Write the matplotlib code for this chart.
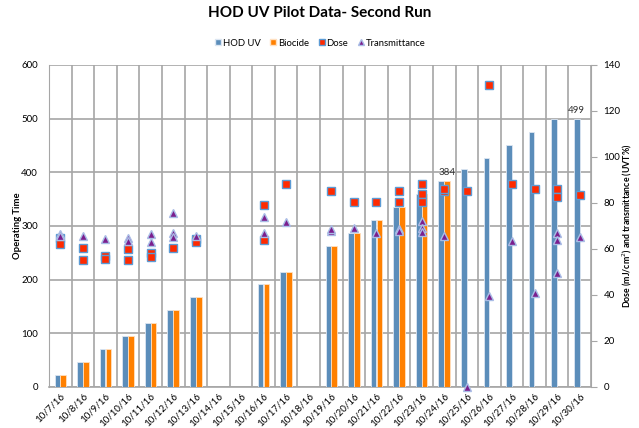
import matplotlib
matplotlib.use("Agg")
import matplotlib.pyplot as plt
import numpy as np
from matplotlib.lines import Line2D
from matplotlib import font_manager

plt.rcParams['font.family'] = ['Lato', 'DejaVu Sans']
names = {f.name for f in font_manager.fontManager.ttflist}
title_family = ['Liberation Sans Narrow', 'Lato', 'DejaVu Sans'] if 'Liberation Sans Narrow' in names else ['Lato', 'DejaVu Sans']

dates = ["10/7/16", "10/8/16", "10/9/16", "10/10/16", "10/11/16", "10/12/16",
         "10/13/16", "10/14/16", "10/15/16", "10/16/16", "10/17/16", "10/18/16",
         "10/19/16", "10/20/16", "10/21/16", "10/22/16", "10/23/16", "10/24/16",
         "10/25/16", "10/26/16", "10/27/16", "10/28/16", "10/29/16", "10/30/16"]

hod_uv = [23, 47, 71, 95, 119, 143, 167, np.nan, np.nan, 191, 215, np.nan,
          263, 287, 311, 335, 359, 384, 407, 427, 451, 475, 499, 499]
biocide = [23, 47, 71, 95, 119, 143, 167, np.nan, np.nan, 191, 215, np.nan,
           263, 287, 311, 335, 359, 384, np.nan, np.nan, np.nan, np.nan, np.nan, np.nan]

dose_dates = ["10/7/16", "10/7/16", "10/8/16", "10/8/16", "10/9/16", "10/9/16",
              "10/10/16", "10/10/16", "10/11/16", "10/11/16", "10/12/16",
              "10/13/16", "10/13/16", "10/16/16", "10/16/16", "10/17/16",
              "10/19/16", "10/20/16", "10/21/16", "10/22/16", "10/22/16",
              "10/23/16", "10/23/16", "10/23/16", "10/24/16", "10/24/16",
              "10/25/16", "10/26/16", "10/27/16", "10/28/16", "10/29/16",
              "10/29/16", "10/30/16"]
dose = [64.9, 62.2, 60.3, 55.2, 56.8, 55.5,
        60.0, 55.2, 58.4, 56.7, 60.3,
        64.2, 63.2, 79.1, 63.9, 88.1,
        85.2, 80.3, 80.3, 85.4, 80.3,
        88.1, 83.9, 80.3, 85.4, 86.1,
        85.4, 131.4, 88.1, 86.1, 86.1,
        82.7, 83.5]

uvt_dates = ["10/7/16", "10/7/16", "10/8/16", "10/9/16", "10/10/16", "10/10/16",
             "10/11/16", "10/11/16", "10/12/16", "10/12/16", "10/12/16",
             "10/13/16", "10/16/16", "10/16/16", "10/17/16", "10/19/16",
             "10/19/16", "10/20/16", "10/21/16", "10/22/16", "10/22/16",
             "10/23/16", "10/23/16", "10/23/16", "10/24/16", "10/25/16",
             "10/26/16", "10/27/16", "10/28/16", "10/29/16", "10/29/16",
             "10/29/16", "10/30/16"]
uvt = [66.5, 65.8, 65.7, 64.2, 64.9, 63.5,
       66.5, 63.2, 75.5, 66.8, 65.3,
       65.7, 73.8, 67.1, 71.9, 67.8,
       68.5, 69.0, 67.1, 68.6, 67.8,
       72.3, 69.0, 67.5, 65.7, 0.0,
       39.6, 63.6, 41.0, 67.1, 63.9,
       49.7, 65.3]

labels_pts = [("10/24/16", "biocide", "384"), ("10/30/16", "hod", "499")]

blue = "#5B8DBA"
orange = "#FF8000"
red = "#FF2A00"
purple = "#7B1F8E"
edge_blue = "#5B9BD5"
edge_tri = "#A9BDE6"
grid_c = "#A6A6A6"

fig = plt.figure(figsize=(6.39, 4.28), dpi=100)
ax = fig.add_axes([49/639, 1-387/428, (591-49)/639, (387-65)/428])
ax2 = ax.twinx()

x = np.arange(len(dates))
idx = {d: i for i, d in enumerate(dates)}
w = 0.25
off = 0.13
ax.bar(x - off, hod_uv, width=w, color=blue, edgecolor="#DCE6F2", linewidth=0.6, zorder=3)
ax.bar(x + off, biocide, width=w, color=orange, edgecolor="#FFE0C0", linewidth=0.6, zorder=3)

for d, s, t in labels_pts:
    i = idx[d]
    if s == "hod":
        ax.text(i - off, hod_uv[i] + 8, t, ha="center", va="bottom", fontsize=7, color="#333333")
    else:
        ax.text(i + off, biocide[i] + 8, t, ha="center", va="bottom", fontsize=7, color="#333333")

ax.set_xlim(-0.5, len(dates) - 0.5)
ax.set_ylim(0, 600)
ax.set_yticks(np.arange(0, 601, 100))
ax.set_xticks(x)
ax.set_xticklabels(dates, rotation=45, ha="right", rotation_mode="anchor", fontsize=7)
ax.set_xticks(np.arange(-0.5, len(dates), 1), minor=True)
ax.tick_params(axis="x", which="both", length=0, pad=3)
ax.tick_params(axis="y", length=0, labelsize=7, pad=8)
ax.grid(True, axis="y", which="major", color=grid_c, linewidth=1.2, zorder=0)
ax.grid(True, axis="x", which="minor", color=grid_c, linewidth=1.2, zorder=0)
ax.grid(False, axis="x", which="major")
ax.set_axisbelow(True)
for sp in ["top", "right"]:
    ax.spines[sp].set_visible(False)
ax.spines["left"].set_color(grid_c)
ax.spines["bottom"].set_color(grid_c)
ax.spines["bottom"].set_linewidth(1.2)
fig.text(17/639, 1 - 226/428, "Operating Time", rotation=90, ha="center", va="center",
         fontsize=6.8, fontweight="bold")

dx = [idx[d] for d in dose_dates]
ux = [idx[d] for d in uvt_dates]
ax2.plot(dx, dose, linestyle="none", marker="s", markersize=6.3, markerfacecolor=red,
         markeredgecolor=edge_blue, markeredgewidth=1.0, zorder=5, clip_on=False)
ax2.plot(ux, uvt, linestyle="none", marker="^", markersize=6, markerfacecolor=purple,
         markeredgecolor=edge_tri, markeredgewidth=1.0, zorder=6, clip_on=False)
ax2.set_ylim(0, 140)
ax2.set_yticks(np.arange(0, 141, 20))
ax2.tick_params(axis="y", direction="out", length=4, color=grid_c, labelsize=7, pad=5)
for sp in ["top", "left", "bottom"]:
    ax2.spines[sp].set_visible(False)
ax2.spines["right"].set_color(grid_c)
ax2.set_xlim(-0.5, len(dates) - 0.5)
fig.text(627/639, 1 - 226/428, "Dose (mJ/cm$^2$) and transmittance (UVT%)", rotation=90,
         ha="center", va="center", fontsize=6.3, fontweight="bold")

fig.suptitle("HOD UV Pilot Data- Second Run", x=0.5, y=0.985, fontsize=11, fontweight="bold",
             family=title_family)

handles = [
    Line2D([], [], linestyle="none", marker="s", markersize=4, markerfacecolor=blue, markeredgecolor="#DCE6F2"),
    Line2D([], [], linestyle="none", marker="s", markersize=4, markerfacecolor=orange, markeredgecolor="#FFE0C0"),
    Line2D([], [], linestyle="none", marker="s", markersize=5, markerfacecolor=red, markeredgecolor=edge_blue),
    Line2D([], [], linestyle="none", marker="^", markersize=5, markerfacecolor=purple, markeredgecolor=edge_tri),
]
fig.legend(handles, ["HOD UV", "Biocide", "Dose", "Transmittance"], loc="center",
           bbox_to_anchor=(0.5, 1 - 43/428), ncol=4, frameon=False, fontsize=6.8,
           handletextpad=0.05, columnspacing=0.9, handlelength=0.9)

fig.savefig("out.png", dpi=100)
